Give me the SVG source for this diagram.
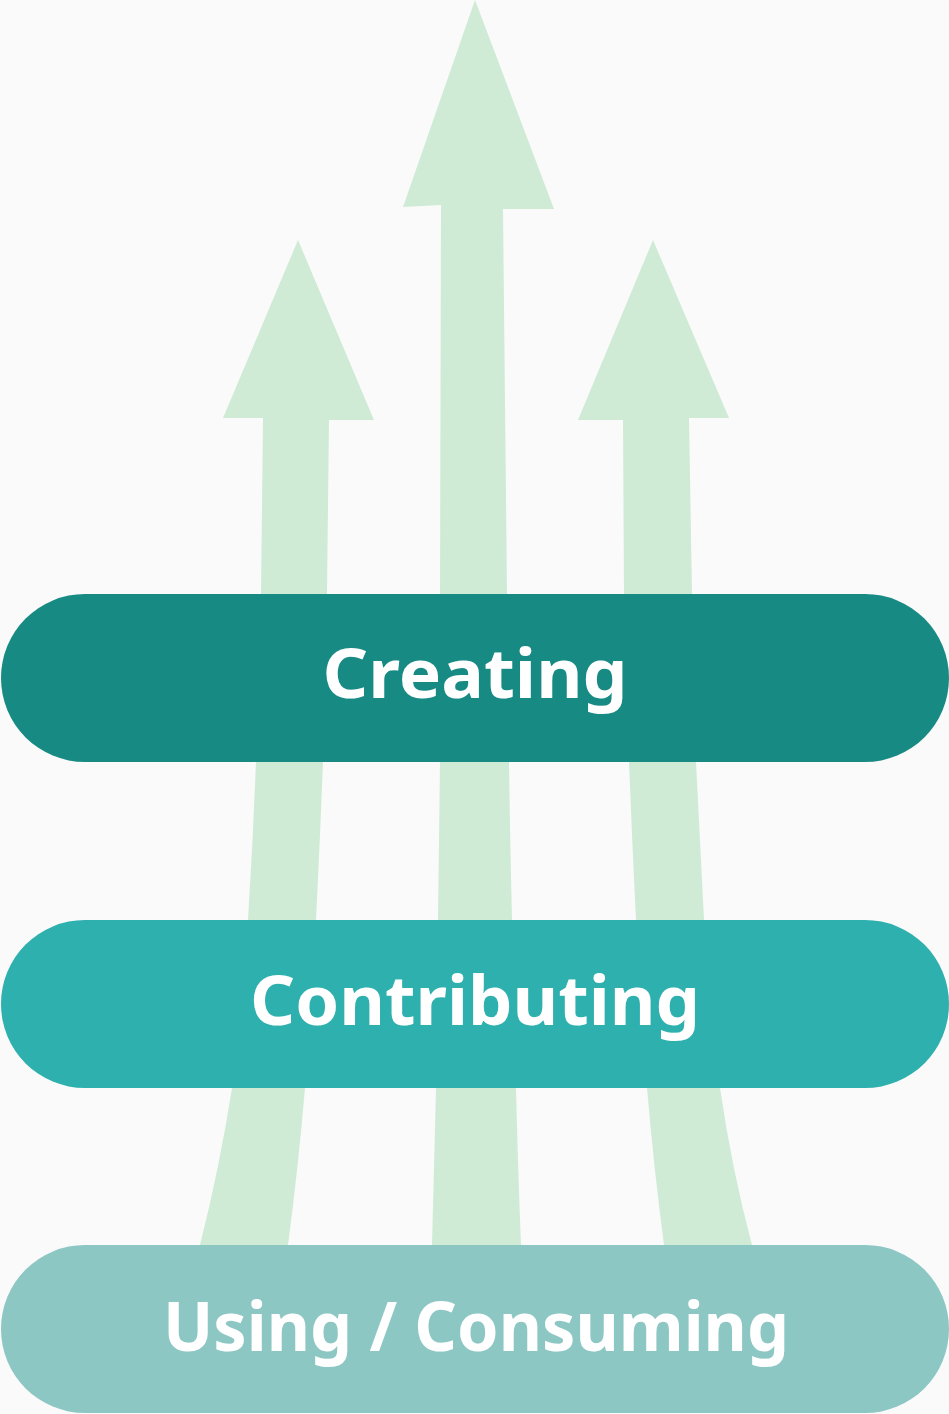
<svg xmlns="http://www.w3.org/2000/svg" width="949" height="1414" viewBox="0 0 949 1414">
<style>
.arrow{fill:#cfebd5}
.lbl{font-family:"Noto Sans","Open Sans","DejaVu Sans",sans-serif;font-weight:700;font-size:68px;fill:#ffffff;text-anchor:middle}
</style>
<rect x="0" y="0" width="949" height="1414" fill="#fafafa"/>
<g id="connectors">
<path id="arrow-left" class="arrow" d="M298,240 L374,420 L329,420 L327,594 L323,762 Q320,840 316,920 L305,1088 Q298,1170 288,1245 L280,1330 L190,1330 L200,1245 Q219,1170 232,1088 L248,920 Q253,840 256,762 L261,594 L263,418 L223,418 Z"/>
<path id="arrow-middle" class="arrow" d="M475,0 L554,209 L503,209 L507,594 L509,762 Q510,840 512,920 L516,1088 Q518,1170 521,1245 L523,1330 L430,1330 L432,1245 Q434,1170 436,1088 L438,920 Q439,840 440,762 L440,594 L441,205 L403,207 Z"/>
<path id="arrow-right" class="arrow" d="M653,240 L729,418 L689,418 L692,594 L696,762 Q700,840 704,920 L720,1088 Q732,1170 752,1245 L762,1330 L670,1330 L664,1245 Q654,1170 647,1088 L636,920 Q632,840 629,762 L624,594 L623,420 L578,420 Z"/>
</g>
<g id="node-creating">
<rect x="1" y="594" width="948" height="168" rx="84" ry="84" fill="#178a84"/>
<text class="lbl" x="475" y="698" textLength="305" lengthAdjust="spacingAndGlyphs">Creating</text>
</g>
<g id="node-contributing">
<rect x="1" y="920" width="948" height="168" rx="84" ry="84" fill="#2db0ae"/>
<text class="lbl" x="475" y="1025" textLength="450" lengthAdjust="spacingAndGlyphs">Contributing</text>
</g>
<g id="node-using">
<rect x="1" y="1245" width="948" height="168" rx="84" ry="84" fill="#8dc7c4"/>
<text class="lbl" x="476" y="1351" textLength="626" lengthAdjust="spacingAndGlyphs">Using / Consuming</text>
</g>
</svg>
